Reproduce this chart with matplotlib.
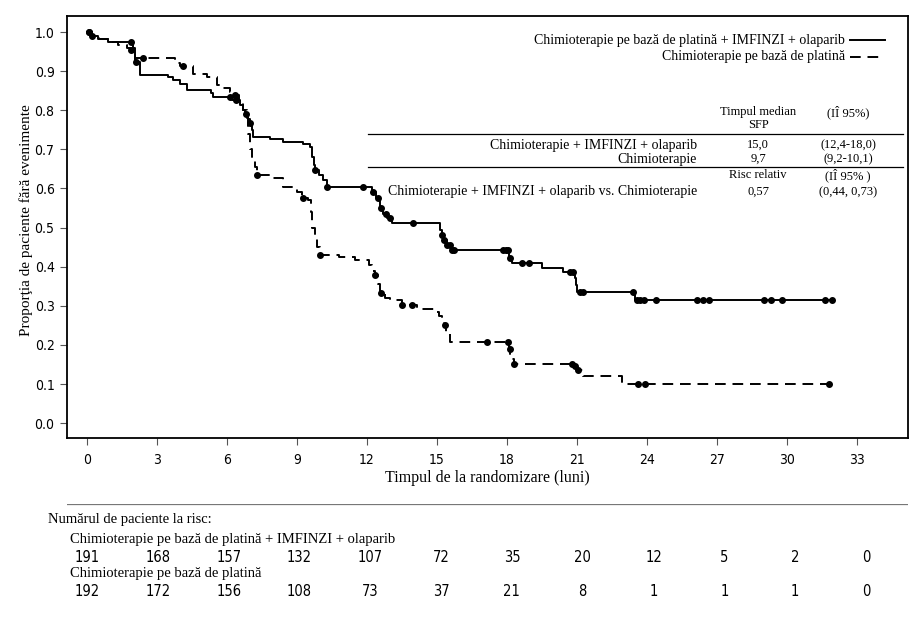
import numpy as np
import matplotlib
matplotlib.use('Agg')
import matplotlib.pyplot as plt

# Kaplan-Meier steps (time in months, proportion after the step)
t_trt = [0, 0.2, 0.47, 0.9, 1.95, 2.06, 2.27, 3.49, 3.7, 4.0, 4.27, 5.3, 5.4, 6.2, 6.56, 6.7,
         6.77, 6.9, 6.99, 7.05, 7.13, 7.84, 8.4, 9.27, 9.56, 9.65, 9.72, 9.77, 9.95, 10.13, 10.27,
         12.2, 12.4, 12.56, 12.7, 12.84, 13.06, 15.13, 15.2, 15.3, 15.41, 15.63, 18.1, 18.2,
         19.49, 20.41, 20.9, 20.95, 21.0, 23.5, 31.93]
s_trt = [1.0, 0.99, 0.982, 0.975, 0.96, 0.924, 0.89, 0.885, 0.877, 0.868, 0.852, 0.843, 0.834,
         0.825, 0.813, 0.80, 0.79, 0.778, 0.767, 0.75, 0.732, 0.726, 0.72, 0.713, 0.707, 0.68,
         0.66, 0.647, 0.634, 0.621, 0.604, 0.592, 0.575, 0.55, 0.535, 0.524, 0.512, 0.495,
         0.481, 0.468, 0.455, 0.442, 0.421, 0.41, 0.396, 0.387, 0.37, 0.353, 0.336, 0.315, 0.315]
c_trt = [0.1, 0.2, 1.9, 2.1, 6.13, 6.4, 6.8, 7.0, 9.77, 10.27, 11.83, 12.25, 12.45, 12.6, 12.8,
         13.0, 13.99, 15.2, 15.3, 15.42, 15.55, 15.65, 15.75, 17.85, 17.95, 18.06, 18.15, 18.63,
         18.96, 20.7, 20.84, 21.13, 21.27, 23.41, 23.56, 23.7, 23.86, 24.37, 26.13, 26.41, 26.66,
         29.0, 29.3, 29.79, 31.64, 31.93]

t_ctl = [0, 0.2, 0.5, 0.9, 1.34, 1.7, 1.89, 2.06, 3.77, 4.0, 4.56, 5.13, 5.56, 5.77, 6.13, 6.34,
         6.5, 6.7, 6.85, 6.92, 6.98, 7.06, 7.2, 7.27, 7.84, 8.41, 8.99, 9.2, 9.49, 9.6, 9.65, 9.75,
         9.84, 9.99, 10.8, 11.5, 12.1, 12.2, 12.34, 12.45, 12.56, 12.77, 12.99, 13.49, 14.13,
         14.91, 15.1, 15.2, 15.3, 15.4, 15.54, 18.1, 18.15, 18.2, 18.3, 20.85, 20.95, 21.27, 22.91,
         31.8]
s_ctl = [1.0, 0.99, 0.982, 0.975, 0.967, 0.96, 0.954, 0.933, 0.922, 0.912, 0.893, 0.884, 0.864,
         0.856, 0.847, 0.839, 0.82, 0.80, 0.78, 0.74, 0.70, 0.681, 0.655, 0.634, 0.626, 0.604,
         0.592, 0.575, 0.570, 0.54, 0.50, 0.47, 0.451, 0.43, 0.425, 0.417, 0.404, 0.39, 0.379,
         0.355, 0.332, 0.319, 0.315, 0.302, 0.293, 0.285, 0.275, 0.268, 0.25, 0.23, 0.208, 0.19,
         0.174, 0.165, 0.151, 0.145, 0.136, 0.12, 0.101, 0.101]
c_ctl = [0.1, 1.89, 2.41, 4.1, 6.34, 7.27, 9.27, 9.99, 12.34, 12.6, 13.49, 13.91, 15.34, 17.16,
         18.06, 18.13, 18.3, 20.8, 20.91, 21.06, 23.63, 23.91, 31.8]

months = [0, 3, 6, 9, 12, 15, 18, 21, 24, 27, 30, 33]
risk_trt = [191, 168, 157, 132, 107, 72, 35, 20, 12, 5, 2, 0]
risk_ctl = [192, 172, 156, 108, 73, 37, 21, 8, 1, 1, 1, 0]

lab_trt = 'Chimioterapie pe bază de platină + IMFINZI + olaparib'
lab_ctl = 'Chimioterapie pe bază de platină'

serif = ['Liberation Serif', 'DejaVu Serif']
narrow = ['DejaVu Sans']
DASH = (0, (5.5, 3.5))


def at(t, s, c):
    t = np.asarray(t)
    s = np.asarray(s)
    idx = np.searchsorted(t, c, side='right') - 1
    return s[idx]


fig = plt.figure(figsize=(9.22, 6.24), dpi=100)
ax = fig.add_axes([67/922, 1-438/624, 841/922, 422/624])

ax.plot(t_trt, s_trt, drawstyle='steps-post', c='k', lw=1.4)
ax.plot(t_ctl, s_ctl, drawstyle='steps-post', c='k', lw=1.4, ls=DASH)
ax.plot(c_trt, at(t_trt, s_trt, c_trt), 'o', c='k', ms=4)
ax.plot(c_ctl, at(t_ctl, s_ctl, c_ctl), 'o', c='k', ms=4)

ax.set_xlim(-0.86, 35.19)
ax.set_ylim(-0.038, 1.041)
ax.set_xticks(months)
ax.set_yticks(np.arange(0, 1.01, 0.1))
ax.set_yticklabels(['%.1f' % v for v in np.arange(0, 1.01, 0.1)])
for lb in ax.get_xticklabels() + ax.get_yticklabels():
    lb.set_family(narrow)
    lb.set_stretch('condensed')
    lb.set_fontsize(10)
ax.tick_params(length=5, width=0.8, color='#555555')
ax.tick_params(axis='x', pad=6)
ax.tick_params(axis='y', pad=4)
for sp in ax.spines.values():
    sp.set_linewidth(1.3)
ax.set_xlabel('Timpul de la randomizare (luni)', family=serif, fontsize=11.5, labelpad=2)
fig.text(26/922, 1-220/624, 'Proporţia de paciente fără evenimente', family=serif,
         fontsize=11, rotation=90, ha='center', va='center')

# legend drawn by hand so the labels sit flush against the line samples
ax.text(0.925, 0.943, lab_trt, transform=ax.transAxes, ha='right', va='center',
        family=serif, fontsize=10)
ax.text(0.925, 0.903, lab_ctl, transform=ax.transAxes, ha='right', va='center',
        family=serif, fontsize=10)
ax.plot([0.931, 0.9727], [0.943, 0.943], transform=ax.transAxes, c='k', lw=1.4)
ax.plot([0.931, 0.9727], [0.903, 0.903], transform=ax.transAxes, c='k', lw=1.4, ls=DASH)

# summary table
def ty(py):
    return (438 - py) / 422

x1, x2, x3 = 0.749, 0.8217, 0.9287
kw = dict(transform=ax.transAxes, va='center', family=serif)
ax.text(x2, ty(112), 'Timpul median', ha='center', fontsize=9, **kw)
ax.text(x2, ty(125), 'SFP', ha='center', fontsize=9, **kw)
ax.text(x3, ty(112), '(IÎ 95%)', ha='center', fontsize=9, **kw)
ax.plot([0.358, 0.994], [ty(134), ty(134)], transform=ax.transAxes, c='k', lw=0.9)
ax.text(x1, ty(145), 'Chimioterapie + IMFINZI + olaparib', ha='right', fontsize=10, **kw)
ax.text(x2, ty(145), '15,0', ha='center', fontsize=9, **kw)
ax.text(x3, ty(145), '(12,4-18,0)', ha='center', fontsize=9, **kw)
ax.text(x1, ty(159), 'Chimioterapie', ha='right', fontsize=10, **kw)
ax.text(x2, ty(159), '9,7', ha='center', fontsize=9, **kw)
ax.text(x3, ty(159), '(9,2-10,1)', ha='center', fontsize=9, **kw)
ax.plot([0.358, 0.994], [ty(167), ty(167)], transform=ax.transAxes, c='k', lw=0.9)
ax.text(x2, ty(175), 'Risc relativ', ha='center', fontsize=9, **kw)
ax.text(x3, ty(175), '(IÎ 95% )', ha='center', fontsize=9, **kw)
ax.text(x1, ty(192), 'Chimioterapie + IMFINZI + olaparib vs. Chimioterapie', ha='right',
        fontsize=10, **kw)
ax.text(x2, ty(192), '0,57', ha='center', fontsize=9, **kw)
ax.text(x3, ty(192), '(0,44, 0,73)', ha='center', fontsize=9, **kw)

# number at risk
rax = fig.add_axes([67/922, 0.0, 841/922, 1-504/624])
rax.set_xlim(-0.848, 34.78)
rax.set_ylim(624 - 504, 0)
rax.axis('off')
rax.axhline(0, c='#777777', lw=0.9)
rax.text(-1.65, 520 - 504, 'Numărul de paciente la risc:', family=serif, fontsize=10.5,
         va='center', ha='left')
rax.text(-0.72, 539 - 504, lab_trt, family=serif, fontsize=10.5, va='center', ha='left')
rax.text(-0.72, 574 - 504, lab_ctl, family=serif, fontsize=10.5, va='center', ha='left')
for m, a, b in zip(months, risk_trt, risk_ctl):
    rax.text(m, 558 - 504, str(a), family=narrow, stretch='condensed', fontsize=10.5,
             ha='center', va='center')
    rax.text(m, 592 - 504, str(b), family=narrow, stretch='condensed', fontsize=10.5,
             ha='center', va='center')

fig.savefig('out.png', dpi=100)
